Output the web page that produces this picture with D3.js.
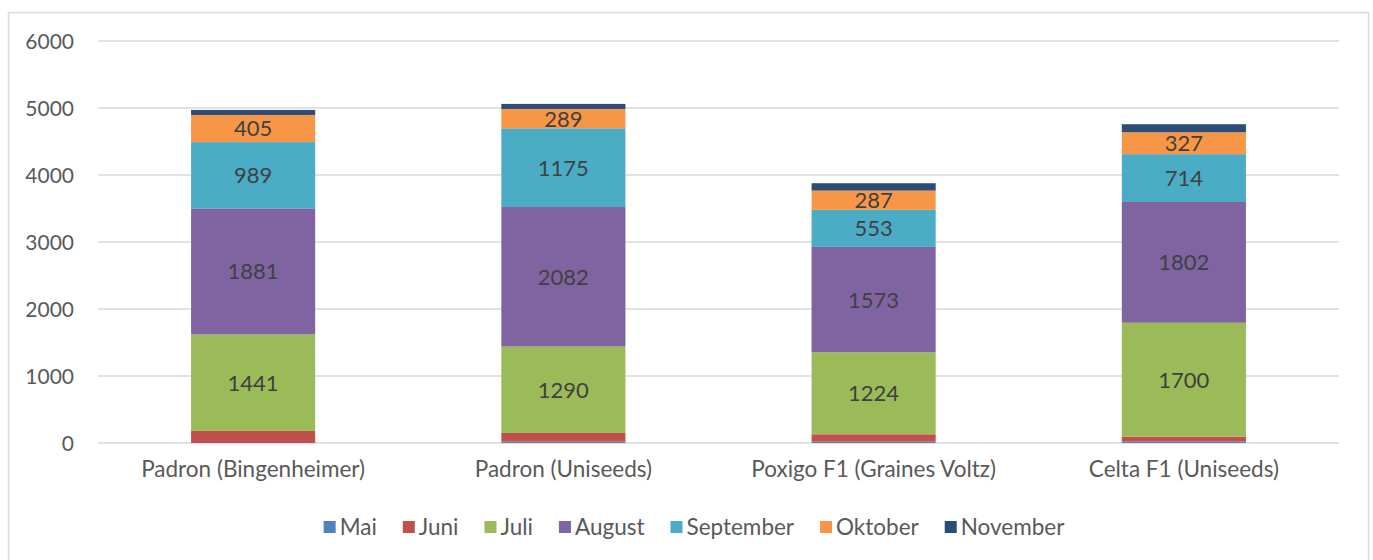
<!DOCTYPE html>
<html>
<head>
<meta charset="utf-8">
<script src="https://cdn.jsdelivr.net/npm/d3@7"></script>
<style>
  body { margin: 0; background: #fff; }
  text { font-family: Lato, "Open Sans", sans-serif; fill: #595959; }
</style>
</head>
<body>
<div class="chart"></div>
<script>
const svgWidth = 1373;
const svgHeight = 560;

// data
const categories = ["Padron (Bingenheimer)", "Padron (Uniseeds)", "Poxigo F1 (Graines Voltz)", "Celta F1 (Uniseeds)"];
const months = ["Mai", "Juni", "Juli", "August", "September", "Oktober", "November"];
const mai = [0, 20, 20, 20];
const juni = [180, 130, 110, 75];
const juli = [1441, 1290, 1224, 1700];
const august = [1881, 2082, 1573, 1802];
const september = [989, 1175, 553, 714];
const oktober = [405, 289, 287, 327];
const november = [75, 75, 110, 120];
const yTicks = [0, 1000, 2000, 3000, 4000, 5000, 6000];
const labelled = ["Juli", "August", "September", "Oktober"];

const colors = ["#4F81BD", "#C0504D", "#9BBB59", "#8064A2", "#4BACC6", "#F79646", "#2C4D75"];

const margin = { top: 41, right: 34, bottom: 117, left: 98 };
const width = svgWidth - margin.left - margin.right;
const height = svgHeight - margin.top - margin.bottom;

const seriesValues = [mai, juni, juli, august, september, oktober, november];
const rows = categories.map((c, i) => {
    const r = { cat: c };
    months.forEach((m, j) => { r[m] = seriesValues[j][i]; });
    return r;
});

const stacked = d3.stack().keys(months)(rows);

const svg = d3.select(".chart")
    .append("svg")
    .attr("width", svgWidth)
    .attr("height", svgHeight);

// chart border
svg.append("rect")
    .attr("x", 8.5)
    .attr("y", 12.5)
    .attr("width", 1360)
    .attr("height", 560)
    .attr("fill", "none")
    .attr("stroke", "#d9d9d9")
    .attr("stroke-width", 1.5);

const chartGroup = svg.append("g")
    .attr("transform", `translate(${margin.left}, ${margin.top})`);

const x = d3.scaleBand()
    .domain(categories)
    .range([0, width])
    .paddingInner(0.6)
    .paddingOuter(0.3);

const y = d3.scaleLinear()
    .domain([0, 6000])
    .range([height, 0]);

// gridlines
chartGroup.append("g")
    .selectAll("line")
    .data(yTicks)
    .enter()
    .append("line")
    .attr("x1", 0)
    .attr("x2", width)
    .attr("y1", d => y(d))
    .attr("y2", d => y(d))
    .attr("stroke", "#d9d9d9")
    .attr("stroke-width", 1.5);

// y axis labels
const yAxis = chartGroup.append("g")
    .call(d3.axisLeft(y).tickValues(yTicks).tickFormat(d3.format("d")).tickSize(0).tickPadding(24));
yAxis.select(".domain").remove();
yAxis.selectAll("text")
    .style("font-size", "21px")
    .style("font-family", "Lato")
    .attr("fill", "#595959")
    .attr("dy", "0.35em");

// x axis labels
const xAxis = chartGroup.append("g")
    .attr("transform", `translate(0, ${height})`)
    .call(d3.axisBottom(x).tickSize(0).tickPadding(18));
xAxis.select(".domain").remove();
xAxis.selectAll("text")
    .style("font-size", "22.5px")
    .style("font-family", "Lato")
    .attr("fill", "#595959");

// bars
const layers = chartGroup.selectAll(".layer")
    .data(stacked)
    .enter()
    .append("g")
    .attr("class", "layer")
    .attr("fill", (d, i) => colors[i]);

layers.selectAll("rect")
    .data(d => d.map(p => ({ p: p, key: d.key })))
    .enter()
    .append("rect")
    .attr("x", d => x(d.p.data.cat))
    .attr("width", x.bandwidth())
    .attr("y", d => y(d.p[1]))
    .attr("height", d => y(d.p[0]) - y(d.p[1]));

// data labels
layers.filter(d => labelled.includes(d.key))
    .selectAll(".val")
    .data(d => d.map(p => ({ p: p, key: d.key })))
    .enter()
    .append("text")
    .attr("class", "val")
    .attr("x", d => x(d.p.data.cat) + x.bandwidth() / 2)
    .attr("y", d => (y(d.p[0]) + y(d.p[1])) / 2)
    .attr("dy", "0.36em")
    .attr("text-anchor", "middle")
    .style("font-size", "22px")
    .style("fill", "#404040")
    .text(d => d.p[1] - d.p[0]);

// legend
const legend = svg.append("g")
    .attr("transform", "translate(0, 527)");

const items = legend.selectAll(".item")
    .data(months)
    .enter()
    .append("g")
    .attr("class", "item");

items.append("rect")
    .attr("width", 12)
    .attr("height", 12)
    .attr("y", -6)
    .attr("fill", (d, i) => colors[i]);

items.append("text")
    .attr("x", 16)
    .attr("dy", "0.35em")
    .style("font-size", "22.5px")
    .text(d => d);

const gap = 26;
let widths = [];
items.each(function () {
    widths.push(16 + d3.select(this).select("text").node().getComputedTextLength());
});
const total = d3.sum(widths) + gap * (widths.length - 1);
let cursor = 694 - total / 2;
items.attr("transform", (d, i) => {
    const t = `translate(${cursor}, 0)`;
    cursor += widths[i] + gap;
    return t;
});
</script>
</body>
</html>
